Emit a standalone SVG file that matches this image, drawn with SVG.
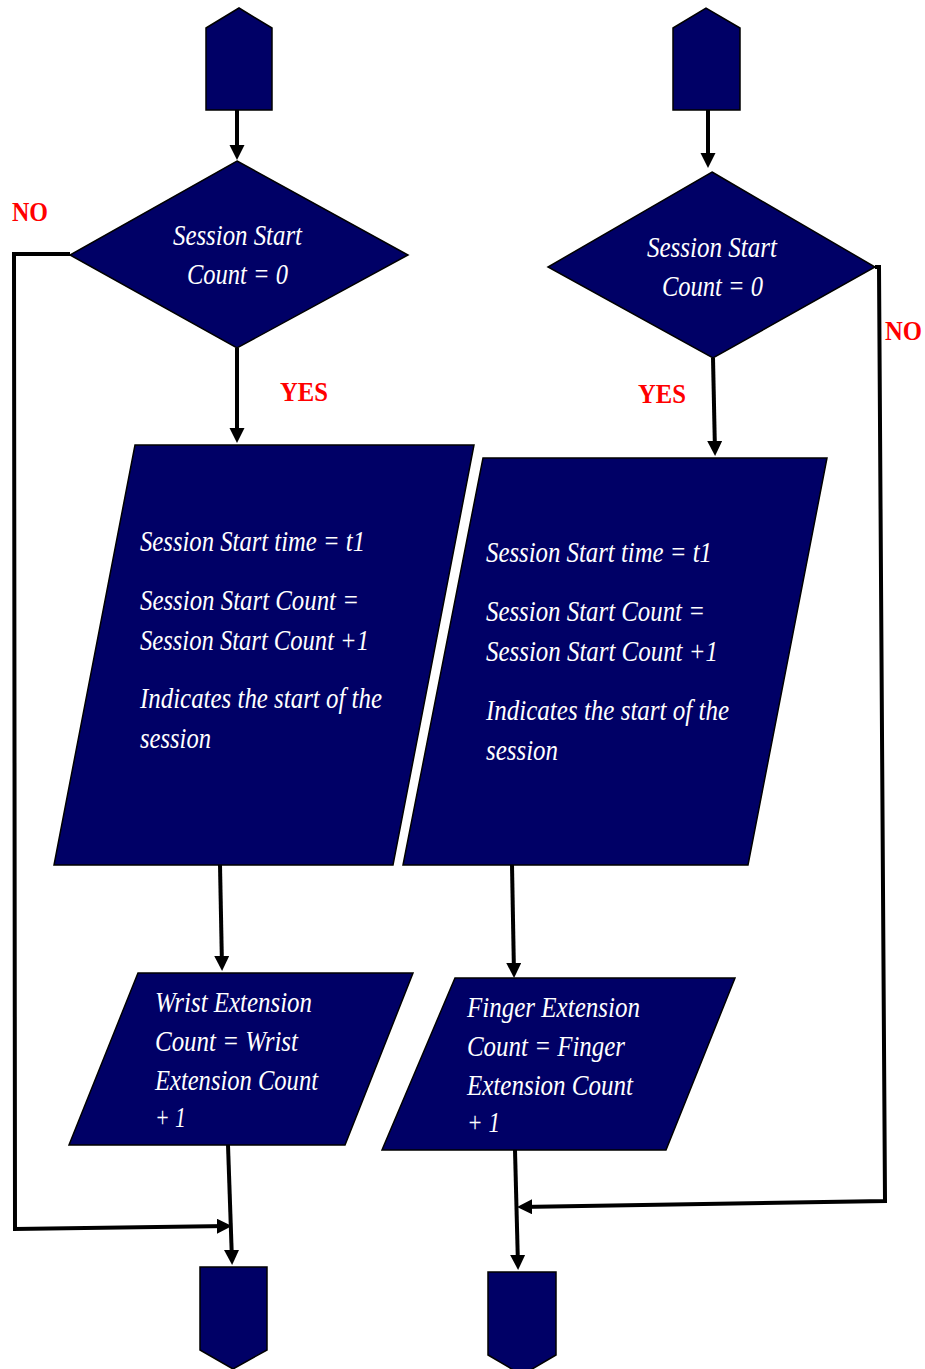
<svg xmlns="http://www.w3.org/2000/svg" width="925" height="1369" viewBox="0 0 925 1369">
  <defs>
    <marker id="arrow" viewBox="0 0 10 10" refX="7.4" refY="5" markerWidth="3.8" markerHeight="3.8" orient="auto" markerUnits="strokeWidth">
      <path d="M0,0 L10,5 L0,10 Z" fill="#000"/>
    </marker>
  </defs>
  <style>
    .shape { fill: #000066; stroke: #000; stroke-width: 1.5; stroke-linejoin: miter; }
    .wire { fill: none; stroke: #000; stroke-width: 4; stroke-linejoin: miter; }
    .arr { marker-end: url(#arrow); }
    .t { font-family: "Liberation Serif", "Times New Roman", serif; font-style: italic; font-size: 29px; fill: #fff; }
    .lbl { font-family: "Liberation Serif", "Times New Roman", serif; font-weight: bold; font-size: 28px; fill: #ff0000; }
  </style>
  <rect width="925" height="1369" fill="#fff"/>

  <!-- connectors -->
  <g id="connectors">
    <line class="wire arr" x1="237" y1="110" x2="237" y2="156"/>
    <line class="wire arr" x1="708" y1="110" x2="708" y2="164"/>
    <line class="wire arr" x1="237" y1="348" x2="237" y2="439"/>
    <line class="wire arr" x1="713" y1="358" x2="715" y2="452"/>
    <line class="wire arr" x1="220" y1="865" x2="222" y2="967"/>
    <line class="wire arr" x1="512" y1="865" x2="514" y2="974"/>
    <line class="wire arr" x1="228" y1="1145" x2="232" y2="1261"/>
    <line class="wire arr" x1="515" y1="1150" x2="518" y2="1266"/>
    <!-- NO branch, left -->
    <polyline class="wire arr" points="70,254 14,254 15,1229 228,1226"/>
    <!-- NO branch, right -->
    <polyline class="wire arr" points="875,267 879,267 885,1201 521,1207"/>
  </g>

  <!-- left column -->
  <g id="start-left">
    <polygon class="shape" points="206,28 239,8 272,28 272,110 206,110"/>
  </g>
  <g id="decision-left">
    <polygon class="shape" points="237,161 408,255 237,348 70,255"/>
    <text class="t" x="173" y="245" textLength="129" lengthAdjust="spacingAndGlyphs">Session Start</text>
    <text class="t" x="187" y="284" textLength="101" lengthAdjust="spacingAndGlyphs">Count = 0</text>
  </g>
  <g id="process-left">
    <polygon class="shape" points="135,445 474,445 393,865 54,865"/>
    <text class="t" x="140" y="551" textLength="225" lengthAdjust="spacingAndGlyphs">Session Start time = t1</text>
    <text class="t" x="140" y="610" textLength="219" lengthAdjust="spacingAndGlyphs">Session Start Count =</text>
    <text class="t" x="140" y="650" textLength="229" lengthAdjust="spacingAndGlyphs">Session Start Count +1</text>
    <text class="t" x="140" y="708" textLength="242" lengthAdjust="spacingAndGlyphs">Indicates the start of the</text>
    <text class="t" x="140" y="748" textLength="71" lengthAdjust="spacingAndGlyphs">session</text>
  </g>
  <g id="count-left">
    <polygon class="shape" points="138,973 413,973 345,1145 69,1145"/>
    <text class="t" x="155" y="1012" textLength="157" lengthAdjust="spacingAndGlyphs">Wrist Extension</text>
    <text class="t" x="155" y="1051" textLength="143" lengthAdjust="spacingAndGlyphs">Count = Wrist</text>
    <text class="t" x="155" y="1090" textLength="163" lengthAdjust="spacingAndGlyphs">Extension Count</text>
    <text class="t" x="155" y="1127" textLength="31" lengthAdjust="spacingAndGlyphs">+ 1</text>
  </g>
  <g id="end-left">
    <polygon class="shape" points="200,1267 267,1267 267,1350 233,1369 200,1350"/>
  </g>

  <!-- right column -->
  <g id="start-right">
    <polygon class="shape" points="673,28 706,8 740,28 740,110 673,110"/>
  </g>
  <g id="decision-right">
    <polygon class="shape" points="712,172 875,267 713,358 548,267"/>
    <text class="t" x="647" y="257" textLength="130" lengthAdjust="spacingAndGlyphs">Session Start</text>
    <text class="t" x="662" y="296" textLength="101" lengthAdjust="spacingAndGlyphs">Count = 0</text>
  </g>
  <g id="process-right">
    <polygon class="shape" points="483,458 827,458 748,865 403,865"/>
    <text class="t" x="486" y="562" textLength="226" lengthAdjust="spacingAndGlyphs">Session Start time = t1</text>
    <text class="t" x="486" y="621" textLength="219" lengthAdjust="spacingAndGlyphs">Session Start Count =</text>
    <text class="t" x="486" y="661" textLength="232" lengthAdjust="spacingAndGlyphs">Session Start Count +1</text>
    <text class="t" x="486" y="720" textLength="243" lengthAdjust="spacingAndGlyphs">Indicates the start of the</text>
    <text class="t" x="486" y="760" textLength="72" lengthAdjust="spacingAndGlyphs">session</text>
  </g>
  <g id="count-right">
    <polygon class="shape" points="455,978 735,978 666,1150 382,1150"/>
    <text class="t" x="467" y="1017" textLength="173" lengthAdjust="spacingAndGlyphs">Finger Extension</text>
    <text class="t" x="467" y="1056" textLength="158" lengthAdjust="spacingAndGlyphs">Count = Finger</text>
    <text class="t" x="467" y="1095" textLength="166" lengthAdjust="spacingAndGlyphs">Extension Count</text>
    <text class="t" x="467" y="1132" textLength="33" lengthAdjust="spacingAndGlyphs">+ 1</text>
  </g>
  <g id="end-right">
    <polygon class="shape" points="488,1272 556,1272 556,1355 522,1375 488,1355"/>
  </g>

  <!-- branch labels -->
  <g id="labels">
    <text class="lbl" x="12" y="221" textLength="36" lengthAdjust="spacingAndGlyphs">NO</text>
    <text class="lbl" x="885" y="340" textLength="37" lengthAdjust="spacingAndGlyphs">NO</text>
    <text class="lbl" x="280" y="401" textLength="48" lengthAdjust="spacingAndGlyphs">YES</text>
    <text class="lbl" x="638" y="403" textLength="48" lengthAdjust="spacingAndGlyphs">YES</text>
  </g>
</svg>
